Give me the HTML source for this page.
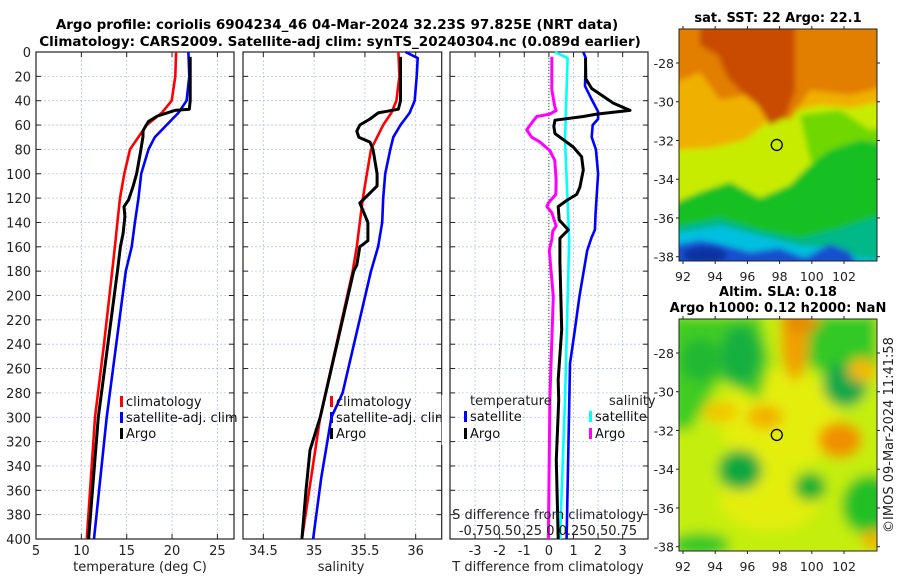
<!DOCTYPE html>
<html><head><meta charset="utf-8">
<style>
html,body{margin:0;padding:0;background:#fff;}
svg{display:block;font-family:"DejaVu Sans","Liberation Sans",sans-serif;}
</style></head>
<body>
<svg id="fig" width="900" height="580" viewBox="0 0 900 580" xmlns="http://www.w3.org/2000/svg">
<defs>
<filter id="blur3" x="-5%" y="-5%" width="110%" height="110%"><feGaussianBlur stdDeviation="3"/></filter>
<filter id="blur6" x="-5%" y="-5%" width="110%" height="110%"><feGaussianBlur stdDeviation="6"/></filter>
<clipPath id="clipM1"><rect x="679" y="29" width="198" height="232"/></clipPath>
<clipPath id="clipM2"><rect x="679" y="319" width="198" height="232"/></clipPath>
</defs>
<text x="337" y="29" text-anchor="middle" font-weight="bold" font-size="13.5">Argo profile: coriolis 6904234_46 04-Mar-2024 32.23S 97.825E (NRT data)</text>
<text x="340" y="46" text-anchor="middle" font-weight="bold" font-size="13.5">Climatology: CARS2009. Satellite-adj clim: synTS_20240304.nc (0.089d earlier)</text>
<g id="panels"></g>
<g id="maps"></g>
</svg>
<script>
// ---------- data ----------
const tClimDepth = [0,20,40,50,60,80,100,120,140,160,180,240,300,400];
const tClimVal   = [20.45,20.36,19.96,18.86,17.2,15.36,14.74,14.26,13.97,13.7,13.4,12.5,11.5,10.6];
const tSatDepth  = [0,20,40,50,60,70,80,100,120,140,160,180,300,400];
const tSatVal    = [21.8,21.9,21.6,20.7,19.4,18.1,17.4,16.6,16.3,15.9,15.55,14.9,12.8,11.4];
const tArgoDepth = [4,40,47,48,52.6,57,62,65,69.5,83,99.7,110.6,121.6,127,135,149,160,179,300,400];
const tArgoVal   = [22.0,22.0,21.9,20.3,18.4,17.4,17.0,16.8,16.8,16.5,16.1,15.7,15.2,14.7,14.8,14.6,14.3,14.0,11.87,10.8];

const sClimDepth = [0,20,40,50,60,80,100,120,140,160,180,300,400];
const sClimVal   = [35.83,35.84,35.81,35.76,35.68,35.56,35.52,35.48,35.45,35.42,35.38,35.06,34.88];
const sSatDepth  = [0,5,20,40,50,60,70,80,100,120,140,160,180,280,300,350,400];
const sSatVal    = [35.9,36.02,36.01,35.99,35.94,35.85,35.78,35.75,35.7,35.68,35.67,35.63,35.56,35.28,35.17,35.07,34.99];
const sArgoDepth = [4,40,47,50,55,60,65,70,74,80,100,110,120,124,130,140,155,160,175,180,300,327,360,400];
const sArgoVal   = [35.85,35.85,35.83,35.63,35.55,35.45,35.42,35.44,35.55,35.58,35.62,35.62,35.5,35.45,35.48,35.53,35.53,35.45,35.42,35.39,35.06,34.96,34.92,34.88];

const dTSatDepth = [0,5,28,39,49,55,60,70,80,100,132,146,152,163,201,228,256,286,400];
const dTSatVal   = [1.4,1.5,1.47,1.74,2.0,2.0,1.78,1.74,1.91,2.0,1.9,1.87,1.74,1.56,1.24,1.06,0.86,0.83,0.72];
const dTArgoDepth = [5,22,30,42,48,51,53,56,61,67,72,78,86,97,111,117,122,127,138,146,153,172,228,269,286,335,400];
const dTArgoVal   = [1.49,1.5,1.74,2.62,3.3,1.94,1.4,0.25,0.2,0.25,0.59,0.99,1.33,1.4,1.26,1.13,0.72,0.38,0.42,0.79,0.45,0.45,0.52,0.38,0.4,0.3,0.38];
const dSSatDepth = [0,5,72,154,286,400];
const dSSatVal   = [0.062,0.19,0.164,0.207,0.164,0.113];
const dSArgoDepth = [4,31,45,48,51,53,60,64,70,74,81,89,106,117,124,127,132,143,147,154,163,201,237,284,400];
const dSArgoVal   = [0.03,0.03,0.06,0.074,0.01,-0.124,-0.19,-0.225,-0.175,-0.09,0.01,0.06,0.074,0.07,-0.005,-0.02,0.03,0.074,0.04,0.03,0.004,0.045,0.03,0.01,-0.005];

const depthTicks = [0,20,40,60,80,100,120,140,160,180,200,220,240,260,280,300,320,340,360,380,400];
const tTicks = [5,10,15,20,25];
const sTicks = [34.5,35,35.5,36];
const dTTicks = [-3,-2,-1,0,1,2,3];
const dSTickLabels = "-0.750.50.25 0 0.250.50.75";
const lonTicks = [92,94,96,98,100,102];
const latTicks = [-28,-30,-32,-34,-36,-38];
const argoLon = 97.825, argoLat = -32.23;

// ---------- helpers ----------
const NS = "http://www.w3.org/2000/svg";
function mk(tag, attrs, parent){const e=document.createElementNS(NS,tag);for(const k in attrs)e.setAttribute(k,attrs[k]);parent.appendChild(e);return e;}
const Y0=52, Y1=539;
const yD = d => Y0 + d*(Y1-Y0)/400;
const panels = document.getElementById('panels');

function axisPanel(name, x0, x1, xmin, xmax, ticks, labelFn, showY){
  const g = mk('g',{},panels);
  
  
  const xs = v => x0 + (v-xmin)*(x1-x0)/(xmax-xmin);
  depthTicks.forEach(d=>{ if(d>0&&d<400){const l=mk('line',{x1:x0,x2:x1,y1:yD(d),y2:yD(d),stroke:'#b8c4e8','stroke-width':0.8,'stroke-dasharray':'2,2'},g);
    
    }});
  ticks.forEach(t=>{const x=xs(t); if(x>x0+1&&x<x1-1){const l=mk('line',{x1:x,x2:x,y1:Y0,y2:Y1,stroke:'#b8c4e8','stroke-width':0.8,'stroke-dasharray':'2,2'},g);
    
    }});
  depthTicks.forEach(d=>{mk('line',{x1:x0,x2:x0+5,y1:yD(d),y2:yD(d),stroke:'#222'},g);mk('line',{x1:x1-5,x2:x1,y1:yD(d),y2:yD(d),stroke:'#222'},g);
    if(showY){const t=mk('text',{x:x0-5,y:yD(d)+5,'text-anchor':'end','font-size':13,fill:'#222'},g);t.textContent=d;
      
      }});
  ticks.forEach(v=>{const x=xs(v);mk('line',{x1:x,x2:x,y1:Y1-5,y2:Y1,stroke:'#222'},g);mk('line',{x1:x,x2:x,y1:Y0,y2:Y0+5,stroke:'#222'},g);
    const t=mk('text',{x:x,y:555,'text-anchor':'middle','font-size':13,fill:'#222'},g);t.textContent=labelFn(v);
    
    });
  const r=mk('rect',{x:x0,y:Y0,width:x1-x0,height:Y1-Y0,fill:'none',stroke:'#222','stroke-width':1.2},g);
  
  
  return {g,xs};
}
function line(g, xs, depths, vals, color, name, w){
  const pts = depths.map((d,i)=>xs(vals[i]).toFixed(1)+','+yD(d).toFixed(1)).join(' ');
  const p = mk('polyline',{points:pts,fill:'none',stroke:color,'stroke-width':w||2.6,'stroke-linejoin':'round'},g);
  
  
}
function legend(g, x, y, color, label, name){
  const gg = mk('g',{},g);
  
  
  mk('rect',{x:x,y:y-10,width:3,height:11,fill:color},gg);
  const t=mk('text',{x:x+6,y:y,'font-size':13,fill:'#111'},gg);t.textContent=label;
}
function label(g,x,y,txt,name,anchor){const t=mk('text',{x:x,y:y,'text-anchor':anchor||'middle','font-size':13,fill:'#222'},g);t.textContent=txt;
  
  return t;}

const p1 = axisPanel('temperature-panel',36,234,5,26.83,tTicks,v=>v,true);
line(p1.g,p1.xs,tClimDepth,tClimVal,'#f00','temp-climatology-line');
line(p1.g,p1.xs,tSatDepth,tSatVal,'#00f','temp-satellite-line');
line(p1.g,p1.xs,tArgoDepth,tArgoVal,'#000','temp-argo-line',3);
legend(p1.g,120,406,'#f00','climatology','legend-climatology');
legend(p1.g,120,422,'#00f','satellite-adj. clim','legend-satellite-adj');
legend(p1.g,120,438,'#000','Argo','legend-argo');
label(p1.g,140,571,'temperature (deg C)','x-axis-title-temperature');

const p2 = axisPanel('salinity-panel',243,441.7,34.3,36.256,sTicks,v=>v,false);
line(p2.g,p2.xs,sClimDepth,sClimVal,'#f00','sal-climatology-line');
line(p2.g,p2.xs,sSatDepth,sSatVal,'#00f','sal-satellite-line');
line(p2.g,p2.xs,sArgoDepth,sArgoVal,'#000','sal-argo-line',3);
legend(p2.g,330,406,'#f00','climatology','legend-climatology-sal');
legend(p2.g,330,422,'#00f','satellite-adj. clim','legend-satellite-adj-sal');
legend(p2.g,330,438,'#000','Argo','legend-argo-sal');
label(p2.g,341,571,'salinity','x-axis-title-salinity');
mk('rect',{x:441.7,y:395,width:8,height:50,fill:'#fff'},p2.g);

const p3 = axisPanel('difference-panel',450,648,-4.02,4.03,dTTicks,v=>v,false);
const dsx = v => p3.xs(v*4);
const zl = mk('line',{x1:p3.xs(0),x2:p3.xs(0),y1:Y0,y2:Y1,stroke:'#335533','stroke-width':1,'stroke-dasharray':'1,2'},p3.g);


line(p3.g,p3.xs,dTSatDepth,dTSatVal,'#00f','dT-satellite-line');
line(p3.g,dsx,dSSatDepth,dSSatVal,'#0ff','dS-satellite-line');
line(p3.g,p3.xs,dTArgoDepth,dTArgoVal,'#000','dT-argo-line',3);
line(p3.g,dsx,dSArgoDepth,dSArgoVal,'#f0f','dS-argo-line',3);
label(p3.g,470,405,'temperature','legend-title-temperature','start');
label(p3.g,609,405,'salinity','legend-title-salinity','start');
legend(p3.g,464,421,'#00f','satellite','legend-dT-satellite');
legend(p3.g,464,438,'#000','Argo','legend-dT-argo');
legend(p3.g,589,421,'#0ff','satellite','legend-dS-satellite');
legend(p3.g,589,438,'#f0f','Argo','legend-dS-argo');
label(p3.g,548,519,'S difference from climatology','s-axis-title');
label(p3.g,548,535,dSTickLabels,'s-axis-tick-labels');
label(p3.g,548,571,'T difference from climatology','x-axis-title-tdiff');

const maps = document.getElementById('maps');
function mapAxes(name, top){
  const g = mk('g',{},maps);
  
  
  const lx = lon => 683 + (lon-92)*16.1;
  const ly = lat => top + 34 + (-28-lat)*19.37;
  return {g,lx,ly,top};
}
function finishMap(m){
  const g=m.g, top=m.top;
  const r=mk('rect',{x:679,y:top,width:198,height:232,fill:'none',stroke:'#222','stroke-width':1},g);
  
  
  lonTicks.forEach(l=>{const x=m.lx(l);mk('line',{x1:x,x2:x,y1:top-3,y2:top,stroke:'#222'},g);mk('line',{x1:x,x2:x,y1:top+232,y2:top+235,stroke:'#222'},g);
    const t=mk('text',{x:x,y:top+252,'text-anchor':'middle','font-size':12.5,fill:'#222'},g);t.textContent=l;
    
    });
  latTicks.forEach(l=>{const y=m.ly(l);mk('line',{x1:676,x2:679,y1:y,y2:y,stroke:'#222'},g);mk('line',{x1:877,x2:880,y1:y,y2:y,stroke:'#222'},g);
    const t=mk('text',{x:674,y:y+5,'text-anchor':'end','font-size':12.5,fill:'#222'},g);t.textContent=l;
    
    });
  const c=mk('circle',{cx:m.lx(argoLon),cy:m.ly(argoLat),r:5.5,fill:'none',stroke:'#000','stroke-width':1.3},g);
  
  
}
function poly(g, pts, fill, name){const p=mk('polygon',{points:pts,fill:fill},g);
  
  }
function blob(g,cx,cy,rx,ry,fill,name){const e=mk('ellipse',{cx:cx,cy:cy,rx:rx,ry:ry,fill:fill},g);
  
  }

const m1 = mapAxes('sst-map',29);
const t1=mk('text',{x:778,y:22,'text-anchor':'middle','font-size':13,'font-weight':'bold'},m1.g);t1.textContent='sat. SST: 22 Argo: 22.1';


const s1 = mk('g',{'clip-path':'url(#clipM1)'},m1.g);
const s1b = mk('g',{filter:'url(#blur3)'},s1);
mk('rect',{x:670,y:20,width:220,height:250,fill:'#c8ec00'},s1b);
poly(s1b,'670,20 890,20 890,100 850,108 820,105 790,112 770,120 745,140 710,148 670,150','#f0b000','sst-orange');
poly(s1b,'670,20 890,20 890,85 850,95 810,90 790,120 770,115 745,95 720,100 700,72 670,85','#e27e00','sst-dark-orange');
poly(s1b,'700,20 795,20 795,90 785,118 770,125 758,105 742,92 728,78 718,55 700,45','#c84c00','sst-red');
poly(s1b,'800,115 840,110 870,130 890,125 890,180 850,190 810,160','#70d800','sst-green-ne');
poly(s1b,'670,205 700,192 730,182 760,198 790,185 810,165 830,150 860,140 890,145 890,270 670,270','#18c020','sst-green');
poly(s1b,'670,228 720,218 760,230 800,238 840,228 890,212 890,270 670,270','#00b888','sst-teal');
poly(s1b,'670,234 720,226 760,236 800,246 830,248 860,258 890,262 890,270 670,270','#00c0e0','sst-cyan');
poly(s1b,'670,246 700,240 720,244 750,252 780,248 805,258 830,244 850,252 860,270 670,270','#1450d0','sst-blue');
blob(s1b,705,255,22,8,'#0a30a0','sst-deep-blue');
finishMap(m1);

const m2 = mapAxes('sla-map',319);
const t2a=mk('text',{x:778,y:296,'text-anchor':'middle','font-size':13,'font-weight':'bold'},m2.g);t2a.textContent='Altim. SLA: 0.18';


const t2b=mk('text',{x:778,y:312,'text-anchor':'middle','font-size':13,'font-weight':'bold'},m2.g);t2b.textContent='Argo h1000: 0.12 h2000: NaN';


const s2 = mk('g',{'clip-path':'url(#clipM2)'},m2.g);
const s2b = mk('g',{filter:'url(#blur6)'},s2);
mk('rect',{x:670,y:310,width:220,height:250,fill:'#c4ee10'},s2b);
blob(s2b,780,420,60,50,'#e4ee10','sla-yellow-center');
blob(s2b,770,500,50,30,'#e4ee10','sla-yellow-south');
poly(s2b,'670,315 760,315 770,360 760,400 720,380 690,430 670,430','#40cc20','sla-green-nw');
blob(s2b,740,355,20,30,'#18b040','sla-green-dark-nw');
blob(s2b,700,360,20,22,'#20b830','sla-green-nw2');
poly(s2b,'810,315 877,315 877,370 830,380 805,360','#30c828','sla-green-ne');
blob(s2b,845,385,22,22,'#10a848','sla-green-e');
blob(s2b,740,470,22,20,'#10a840','sla-green-sw');
blob(s2b,810,487,16,14,'#10b030','sla-green-s');
blob(s2b,870,505,28,30,'#20c028','sla-green-se');
blob(s2b,700,545,30,12,'#30c828','sla-green-bottom');
blob(s2b,795,340,14,40,'#f0a000','sla-orange-n');
blob(s2b,800,322,20,10,'#e88800','sla-orange-top');
blob(s2b,840,440,22,18,'#f09000','sla-orange-east');
blob(s2b,765,417,18,12,'#f4b000','sla-orange-center');
blob(s2b,720,412,18,10,'#f4c400','sla-orange-west');
blob(s2b,862,370,14,12,'#f4b800','sla-orange-ne');
blob(s2b,872,540,10,10,'#f0b000','sla-orange-se');
finishMap(m2);
const imos=mk('text',{x:0,y:0,'text-anchor':'middle','font-size':13,fill:'#222',transform:'translate(893,435) rotate(-90)'},maps);
imos.textContent='©IMOS 09-Mar-2024 11:41:58';


</script>
</body></html>
